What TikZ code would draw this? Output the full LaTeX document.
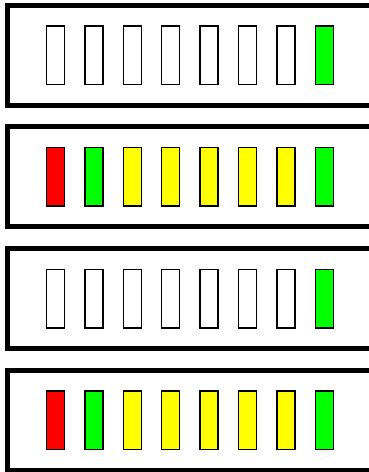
\documentclass[tikz,border=0pt]{standalone}
\usepackage{tikz}
\definecolor{ledred}{HTML}{FF0000}
\definecolor{ledgreen}{HTML}{00FF00}
\definecolor{ledyellow}{HTML}{FFFF00}
\tikzset{
  panel/.style={draw, line width=5pt, minimum width=420pt, minimum height=100pt,
                inner sep=0pt, outer sep=0pt, anchor=north west},
  led/.style={draw, line width=1.5pt, minimum width=18pt, minimum height=58.5pt,
              inner sep=0pt, outer sep=0pt},
  offled/.style={led, fill=white},
  redled/.style={led, fill=ledred},
  greenled/.style={led, fill=ledgreen},
  yellowled/.style={led, fill=ledyellow},
}
\begin{document}
\begin{tikzpicture}[x=1pt, y=-1pt]
    \useasboundingbox (0,0) rectangle (369,472);
    \clip (0,0) rectangle (369,472);
    % panel 1: all off, last green
    \node[panel] (p1) at (7.5, 5) {};
    \node[offled] (a1) at (55.5, 55) {};
    \node[offled] (a2) at (93.9, 55) {};
    \node[offled] (a3) at (132.3, 55) {};
    \node[offled] (a4) at (170.7, 55) {};
    \node[offled] (a5) at (209.1, 55) {};
    \node[offled] (a6) at (247.5, 55) {};
    \node[offled] (a7) at (285.9, 55) {};
    \node[greenled] (a8) at (324.3, 55) {};
    % panel 2: all lit
    \node[panel] (p2) at (7.5, 126.8) {};
    \node[redled] (b1) at (55.5, 176.8) {};
    \node[greenled] (b2) at (93.9, 176.8) {};
    \node[yellowled] (b3) at (132.3, 176.8) {};
    \node[yellowled] (b4) at (170.7, 176.8) {};
    \node[yellowled] (b5) at (209.1, 176.8) {};
    \node[yellowled] (b6) at (247.5, 176.8) {};
    \node[yellowled] (b7) at (285.9, 176.8) {};
    \node[greenled] (b8) at (324.3, 176.8) {};
    % panel 3: all off, last green
    \node[panel] (p3) at (7.5, 248.6) {};
    \node[offled] (c1) at (55.5, 298.6) {};
    \node[offled] (c2) at (93.9, 298.6) {};
    \node[offled] (c3) at (132.3, 298.6) {};
    \node[offled] (c4) at (170.7, 298.6) {};
    \node[offled] (c5) at (209.1, 298.6) {};
    \node[offled] (c6) at (247.5, 298.6) {};
    \node[offled] (c7) at (285.9, 298.6) {};
    \node[greenled] (c8) at (324.3, 298.6) {};
    % panel 4: all lit
    \node[panel] (p4) at (7.5, 370.4) {};
    \node[redled] (d1) at (55.5, 420.4) {};
    \node[greenled] (d2) at (93.9, 420.4) {};
    \node[yellowled] (d3) at (132.3, 420.4) {};
    \node[yellowled] (d4) at (170.7, 420.4) {};
    \node[yellowled] (d5) at (209.1, 420.4) {};
    \node[yellowled] (d6) at (247.5, 420.4) {};
    \node[yellowled] (d7) at (285.9, 420.4) {};
    \node[greenled] (d8) at (324.3, 420.4) {};
\end{tikzpicture}
\end{document}
